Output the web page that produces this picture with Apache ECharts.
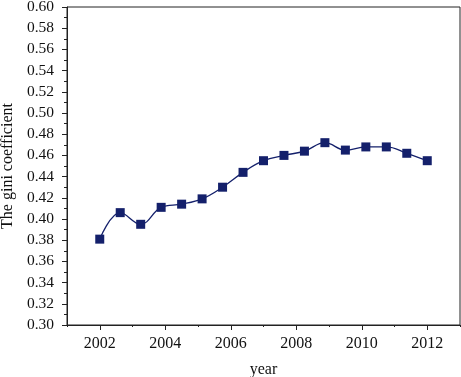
<!DOCTYPE html>
<html>
<head>
<meta charset="utf-8">
<script src="https://cdn.jsdelivr.net/npm/echarts@6/dist/echarts.min.js"></script>
<style>
  html, body { margin: 0; padding: 0; background: #fff; }
  #chart { width: 461px; height: 377px; }
</style>
</head>
<body>
<div id="chart"></div>
<script>
// x position of each observation (years)
const years = [2002, 2002.625, 2003.25, 2003.875, 2004.5, 2005.125, 2005.75, 2006.375,
  2007, 2007.625, 2008.25, 2008.875, 2009.5, 2010.125, 2010.75, 2011.375, 2012];
const gini = [0.381, 0.406, 0.395, 0.411, 0.414, 0.419, 0.430, 0.444,
  0.455, 0.460, 0.464, 0.472, 0.465, 0.468, 0.468, 0.462, 0.455];
const yearTicks = [2002, 2004, 2006, 2008, 2010, 2012];

const lineColor = "#14206b";
const axisColor = "#222";
const font = "Liberation Serif";

const chart = echarts.init(document.getElementById("chart"));
const option = {
  animation: false,
  textStyle: { fontFamily: font },
  grid: {
    left: 67,
    top: 7,
    right: 1,
    bottom: 52,
    outerBoundsMode: "none",
    containLabel: false,
    show: true,
    borderColor: axisColor,
    borderWidth: 1,
  },
  xAxis: [
    {
      type: "value",
      min: 2001,
      max: 2013,
      interval: 1,
      name: "year",
      nameLocation: "middle",
      nameGap: 37,
      nameTextStyle: { fontSize: 16, color: "#111", fontFamily: font },
      axisLine: { show: true, lineStyle: { color: axisColor, width: 1 } },
      axisTick: { show: true, length: 2, lineStyle: { color: axisColor } },
      splitLine: { show: false },
      axisLabel: {
        margin: 11,
        fontSize: 16,
        color: "#111",
        fontFamily: font,
        formatter: function (v) {
          return yearTicks.indexOf(v) >= 0 ? String(v) : "";
        },
      },
    },
    {
      type: "value",
      min: 2001,
      max: 2013,
      position: "bottom",
      axisLine: { show: false },
      axisLabel: { show: false },
      splitLine: { show: false },
      axisTick: {
        show: true,
        length: 5,
        customValues: yearTicks,
        lineStyle: { color: axisColor },
      },
    },
  ],
  yAxis: {
    type: "value",
    min: 0.3,
    max: 0.6,
    interval: 0.02,
    name: "The gini coefficient",
    nameLocation: "middle",
    nameGap: 47,
    nameTextStyle: { fontSize: 16, color: "#111", fontFamily: font },
    axisLine: { show: true, lineStyle: { color: axisColor, width: 1 } },
    axisTick: { show: true, length: 5, lineStyle: { color: axisColor } },
    minorTick: { show: true, splitNumber: 2, length: 3, lineStyle: { color: axisColor } },
    splitLine: { show: false },
    axisLabel: {
      margin: 13,
      fontSize: 15.5,
      color: "#111",
      fontFamily: font,
      formatter: function (v) {
        return v.toFixed(2);
      },
    },
  },
  series: [
    {
      type: "line",
      data: years.map((y, i) => [y, gini[i]]),
      smooth: 0.4,
      symbol: "rect",
      symbolSize: 9,
      lineStyle: { color: lineColor, width: 1.3 },
      itemStyle: { color: lineColor },
    },
  ],
};
chart.setOption(option);
</script>
</body>
</html>
